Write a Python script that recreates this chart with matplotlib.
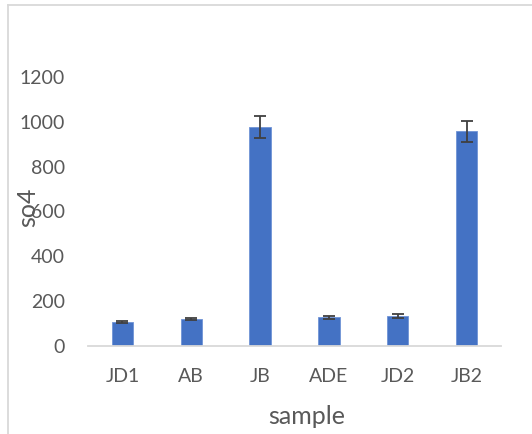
import matplotlib.pyplot as plt
from matplotlib.lines import Line2D

samples = ['JD1', 'AB', 'JB', 'ADE', 'JD2', 'JB2']
so4 = [108, 120, 976, 129, 134, 957]
so4_err = [5, 6, 50, 7, 7, 48]
yticks = [0, 200, 400, 600, 800, 1000, 1200]

plt.rcParams['font.family'] = ['Lato', 'DejaVu Sans']
text_color = '#595959'
W, H = 532, 434

fig = plt.figure(figsize=(W / 100, H / 100), dpi=100)
ax = fig.add_axes([88 / W, 1 - 346 / H, 413 / W, 269 / H])

x = range(len(samples))
ax.bar(x, so4, width=0.31, color='#4472C4', edgecolor='#6F93D6', linewidth=0.6,
       yerr=so4_err, error_kw=dict(ecolor='#404040', elinewidth=1.3, capsize=4.3, capthick=1.3))

ax.set_xlim(-0.5, len(samples) - 0.5)
ax.set_ylim(0, 1200)
ax.set_xticks(list(x))
ax.set_xticklabels(samples)
ax.set_yticks(yticks)
ax.tick_params(axis='both', length=0, labelsize=14, colors=text_color)
ax.tick_params(axis='x', pad=15.5)
ax.tick_params(axis='y', pad=16.5)

for s in ['top', 'right', 'left']:
    ax.spines[s].set_visible(False)
ax.spines['bottom'].set_color('#D9D9D9')
ax.spines['bottom'].set_linewidth(1.3)

# axis titles (Excel puts them a bit bigger than tick labels)
fig.text(306.5 / W, 1 - 424 / H, 'sample', fontsize=18, color=text_color,
         ha='center', va='baseline')
fig.text(28 / W, 1 - 207.5 / H, 'so4', fontsize=18, color=text_color,
         ha='center', va='center', rotation=90)

# chart frame (only top and left edges visible in the crop)
fig.add_artist(Line2D([7.5 / W, 7.5 / W], [0, 1 - 4.5 / H], transform=fig.transFigure,
                      color='#D9D9D9', linewidth=1.3))
fig.add_artist(Line2D([7.5 / W, 1], [1 - 4.5 / H, 1 - 4.5 / H], transform=fig.transFigure,
                      color='#D9D9D9', linewidth=1.3))

fig.savefig('out.png', dpi=100)
